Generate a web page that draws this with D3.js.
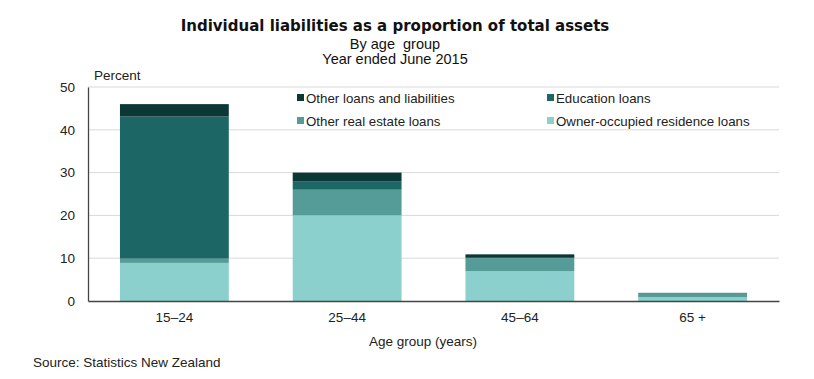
<!DOCTYPE html>
<html><head><meta charset="utf-8">
<script src="https://cdn.jsdelivr.net/npm/d3@7"></script>
<style>body{margin:0;background:#fff;} text{font-family:"Liberation Sans",Arial,sans-serif;}</style>
</head><body><svg id="c" width="814" height="379"></svg>
<script>
const categories = ["15–24","25–44","45–64","65 +"];
const seriesNames = ["Owner-occupied residence loans","Other real estate loans","Education loans","Other loans and liabilities"];
const ownerOccupied = [8.9, 20.0, 7.0, 0.9];
const otherRealEstate = [1.0, 6.0, 3.0, 0.9];
const education = [33.2, 2.0, 0.1, 0.0];
const otherLoans = [2.9, 2.0, 0.8, 0.1];
const yTicks = [0,10,20,30,40,50];
const colors = ["#8bd0cc","#559b97","#1c6666","#0b3834"];

const svg = d3.select("#c");
const m = {l:88, r:779, t:87, b:301};
const x = d3.scaleBand().domain(categories).range([m.l, m.r]).paddingInner(0.37).paddingOuter(0.185);
const y = d3.scaleLinear().domain([0,50]).range([m.b, m.t]);

const data = categories.map((c,i)=>({cat:c, s0:ownerOccupied[i], s1:otherRealEstate[i], s2:education[i], s3:otherLoans[i]}));
const stack = d3.stack().keys(["s0","s1","s2","s3"])(data);

// gridlines
svg.append("g").selectAll("line").data(yTicks.filter(d=>d>0)).join("line")
  .attr("x1", m.l).attr("x2", m.r).attr("y1", d=>y(d)).attr("y2", d=>y(d))
  .attr("stroke", "#d9d9d9").attr("stroke-width", 1);

// bars
svg.append("g").selectAll("g").data(stack).join("g").attr("fill", (d,i)=>colors[i])
  .selectAll("rect").data(d=>d).join("rect")
  .attr("x", d=>x(d.data.cat)).attr("width", x.bandwidth())
  .attr("y", d=>y(d[1])).attr("height", d=>Math.max(0, y(d[0])-y(d[1])));

const fs = 13.5;
// axes
const yAxis = d3.axisLeft(y).tickValues(yTicks).tickSize(0).tickPadding(13);
const gy = svg.append("g").attr("transform", `translate(${m.l},0)`).call(yAxis);
gy.select(".domain").attr("stroke", "#444").attr("stroke-width", 1.3);
gy.selectAll("text").attr("font-size", fs).attr("fill", "#222").style("font-family","Liberation Sans, Arial, sans-serif");

const xAxis = d3.axisBottom(x).tickSize(0).tickPadding(11);
const gx = svg.append("g").attr("transform", `translate(0,${m.b})`).call(xAxis);
gx.select(".domain").attr("stroke", "#444").attr("stroke-width", 1.3);
gx.selectAll("text").attr("font-size", fs).attr("fill", "#222").style("font-family","Liberation Sans, Arial, sans-serif");

// titles
svg.append("text").attr("x", 395).attr("y", 31).attr("text-anchor","middle").attr("font-size", 15).attr("font-weight","bold").attr("fill","#111").style("font-family","DejaVu Sans, Verdana, sans-serif").text("Individual liabilities as a proportion of total assets");
svg.append("text").attr("x", 395).attr("y", 49).attr("text-anchor","middle").attr("font-size", 14.5).attr("fill","#111").attr("xml:space","preserve").style("white-space","pre").text("By age  group");
svg.append("text").attr("x", 395).attr("y", 64).attr("text-anchor","middle").attr("font-size", 14.5).attr("fill","#111").text("Year ended June 2015");
svg.append("text").attr("x", 94).attr("y", 80).attr("font-size", fs).attr("fill","#222").text("Percent");
svg.append("text").attr("x", 423).attr("y", 346).attr("text-anchor","middle").attr("font-size", fs).attr("fill","#222").text("Age group (years)");
svg.append("text").attr("x", 33).attr("y", 367).attr("font-size", fs).attr("fill","#222").text("Source: Statistics New Zealand");

// legend
const legendItems = [
  {name: seriesNames[3], c: colors[3], x: 297, y: 98},
  {name: seriesNames[2], c: colors[2], x: 547, y: 98},
  {name: seriesNames[1], c: colors[1], x: 297, y: 121},
  {name: seriesNames[0], c: colors[0], x: 547, y: 121}
];
const lg = svg.append("g").selectAll("g").data(legendItems).join("g").attr("transform", d=>`translate(${d.x},${d.y})`);
lg.append("rect").attr("x",0).attr("y",-4).attr("width",7).attr("height",7).attr("fill", d=>d.c);
lg.append("text").attr("x",9).attr("y",4.5).attr("font-size",13.3).attr("fill","#222").text(d=>d.name);
</script></body></html>
